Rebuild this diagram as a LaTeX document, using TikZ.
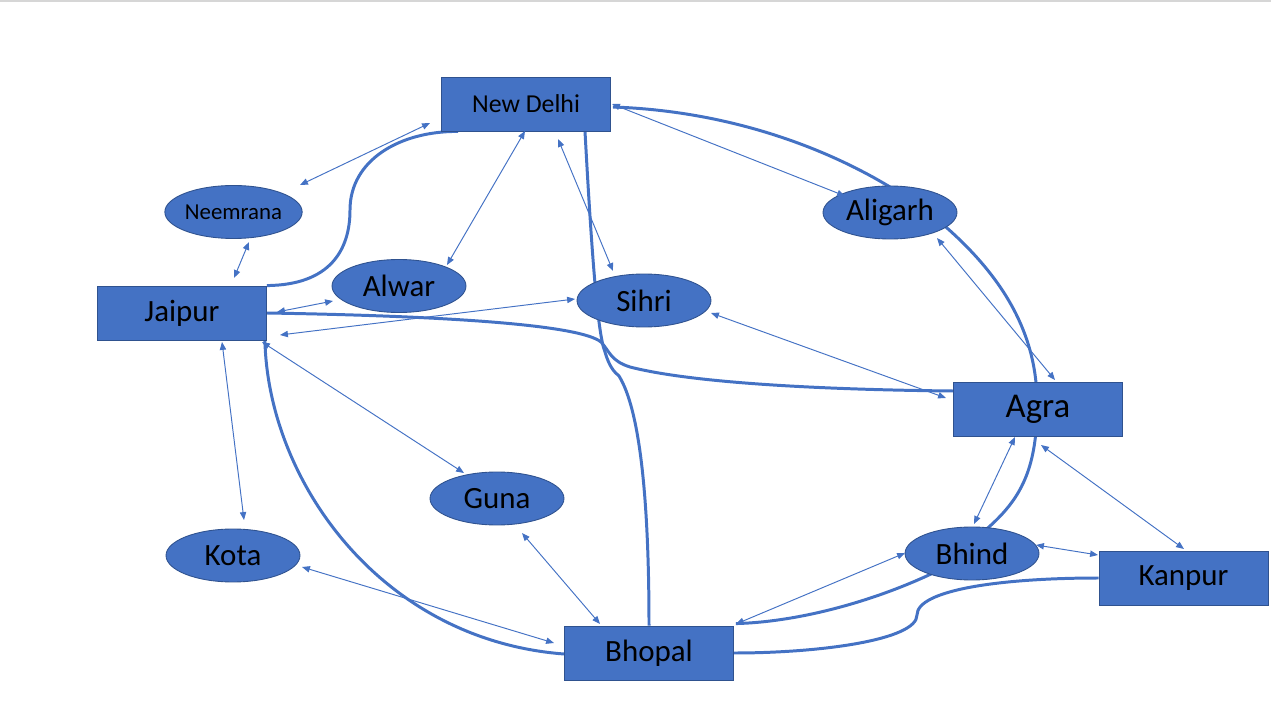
\documentclass[tikz,border=0pt]{standalone}
\usepackage{fontspec}
\setmainfont{Carlito}
\usetikzlibrary{shapes.geometric,arrows.meta,calc,backgrounds}
\definecolor{cblue}{HTML}{4472C4}
\definecolor{cdark}{HTML}{2F528F}
\definecolor{topbar}{HTML}{D6D6D6}
\begin{document}
\begin{tikzpicture}[x=0.02cm,y=-0.02cm,
  city/.style={rectangle,fill=cblue,draw=cdark,line width=0.5pt,minimum width=3.38cm,minimum height=1.08cm,inner sep=0pt,text=black,font=\fontsize{17.6}{20}\selectfont},
  town/.style={ellipse,fill=cblue,draw=cdark,line width=0.5pt,minimum width=2.68cm,minimum height=1.06cm,inner sep=0pt,text=black,font=\fontsize{17.6}{20}\selectfont},
  link/.style={draw=cblue,line width=0.55pt,{Triangle[length=4.5pt,width=3.6pt]}-{Triangle[length=4.5pt,width=3.6pt]}},
  road/.style={draw=cblue,line width=1.7pt},
]
\useasboundingbox (0,0) rectangle (1271,719);
\fill[topbar] (0,0) rectangle (1271,2.5);

% boxes
\node[city,font=\fontsize{14.7}{17}\selectfont] (nd) at (526,104) {New Delhi};
\node[city] (jp) at (182,313) {Jaipur};
\node[city,font=\fontsize{19.8}{22}\selectfont] (ag) at (1038,409) {Agra};
\node[city] (kp) at (1183.5,578) {Kanpur};
\node[city] (bp) at (649,653) {Bhopal};
% ellipses
\node[town,font=\fontsize{13}{15}\selectfont] (ne) at (233.5,212) {Neemrana};
\node[town] (al) at (399,286) {Alwar};
\node[town] (si) at (644,300.5) {Sihri};
\node[town] (alg) at (890,212.5) {Aligarh};
\node[town] (gu) at (497,498.5) {Guna};
\node[town] (ko) at (233,555.5) {Kota};
\node[town] (bh) at (972,553.5) {Bhind};

\begin{pgfonlayer}{background}
% thick roads
\draw[road] (jp.north east) .. controls (330,285) and (350,250) .. (350,210)
  .. controls (350,160) and (400,131) .. ($(nd.south west)+(17,0)$);
\draw[road] ($(nd.south)+(59,0)$) .. controls (592,260) and (598,335) .. (605,352)
  .. controls (609,366) and (614,372) .. (619,376)
  .. controls (640,410) and (649,500) .. (bp.north);
\draw[road] ($(jp.east)+(0,0)$) .. controls (450,316) and (580,325) .. (601,342)
  .. controls (610,352) and (611,361) .. (630,367)
  .. controls (700,385) and (850,390) .. ($(ag.west)+(0,-18)$);
\draw[road] ($(nd.east)+(2,3)$) .. controls (760,112) and (880,170) .. (947,228)
  .. controls (1000,275) and (1036,330) .. (1037,400)
  .. controls (1038,470) and (1020,500) .. ($(bh.north)+(14,3)$);
\draw[road] ($(jp.south east)+(-2,0)$) .. controls (268,480) and (380,640) .. ($(bp.west)+(0,1)$);
\draw[road] ($(bh.south west)+(20,-5)$) .. controls (880,600) and (800,622) .. ($(bp.north east)+(2,-2)$);
\draw[road] ($(kp.west)+(0,0)$) .. controls (1000,578) and (917,590) .. (917,615)
  .. controls (917,640) and (820,653) .. ($(bp.east)+(0,0)$);
\end{pgfonlayer}

% thin two-way links
\draw[link] ($(nd)+(-96,19)$) -- ($(ne)+(66.5,-27)$);
\draw[link] ($(nd)+(-1,27)$) -- ($(al)+(48,-21)$);
\draw[link] ($(nd)+(32,35)$) -- ($(si)+(-31,-29.5)$);
\draw[link] ($(nd)+(86,0)$) -- ($(alg)+(-45,-16.5)$);
\draw[link] ($(alg)+(47,25.5)$) -- ($(ag)+(17,-29)$);
\draw[link] ($(si)+(67,12.5)$) -- ($(ag)+(-92,-11)$);
\draw[link] ($(jp)+(98,22)$) -- ($(si)+(-69,-1.5)$);
\draw[link] ($(jp)+(95,-1)$) -- ($(al)+(-66,15)$);
\draw[link] ($(jp)+(52,-35)$) -- ($(ne)+(15.5,30)$);
\draw[link] ($(jp)+(40,29)$) -- ($(ko)+(11,-35.5)$);
\draw[link] ($(jp)+(80,29)$) -- ($(gu)+(-33,-25.5)$);
\draw[link] ($(ko)+(69,11.5)$) -- ($(bp)+(-95,-10)$);
\draw[link] ($(gu)+(25,34.5)$) -- ($(bp)+(-49,-29)$);
\draw[link] ($(bh)+(-67,-0.5)$) -- ($(bp)+(87,-29)$);
\draw[link] ($(ag)+(-23,28)$) -- ($(bh)+(2,-29.5)$);
\draw[link] ($(ag)+(3,36)$) -- ($(kp)+(0.5,-29)$);
\draw[link] ($(bh)+(64,-8.5)$) -- ($(kp)+(-85.5,-23)$);
\end{tikzpicture}
\end{document}
